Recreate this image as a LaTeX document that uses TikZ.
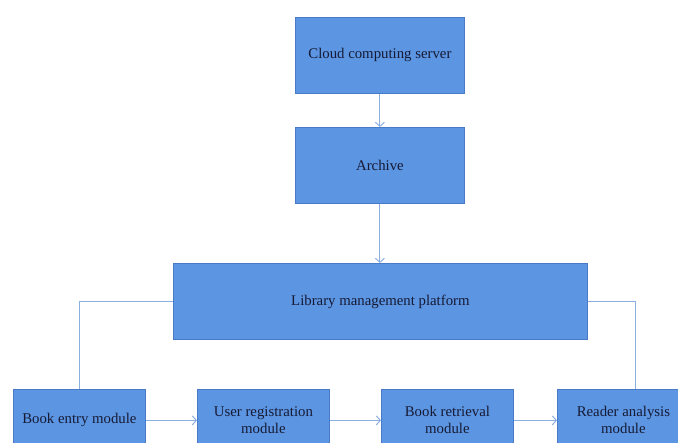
\documentclass[tikz,border=0pt]{standalone}
\usepackage{fontspec}
\setmainfont{Liberation Serif}
\usetikzlibrary{arrows.meta}
\definecolor{boxfill}{RGB}{92,149,226}
\definecolor{boxline}{RGB}{72,122,200}
\definecolor{arrowc}{RGB}{140,175,225}
\definecolor{txt}{RGB}{22,26,52}
\begin{document}
\begin{tikzpicture}[x=1pt,y=-1pt,
  box/.style={draw=boxline, fill=boxfill, line width=0.8pt, text=txt,
    font=\fontsize{14.8}{17}\selectfont, align=center, inner sep=0pt, anchor=north west},
  bigbox/.style={box, minimum width=169pt, minimum height=76pt},
  modbox/.style={box, minimum width=132pt, minimum height=62pt},
  link/.style={draw=arrowc, line width=1pt},
  conn/.style={link, -{Straight Barb[length=4pt,width=9pt]}}]
\useasboundingbox (0,0) rectangle (678,443);
\node[bigbox] (cloud) at (295,17) {Cloud computing server};
\node[bigbox] (archive) at (295,127) {Archive};
\node[box, minimum width=414pt, minimum height=76pt] (lib) at (173,263) {Library management platform};
\node[modbox] (entry) at (13,389) {Book entry module};
\node[modbox] (user) at (197,389) {User registration\\module};
\node[modbox] (retr) at (381,389) {Book retrieval\\module};
\node[modbox] (reader) at (557,389) {Reader analysis\\module};
\coordinate (rtop) at ([xshift=12pt]reader.north);
\draw[conn] (cloud) -- (archive);
\draw[conn] (archive.south) -- (archive.south |- lib.north);
\draw[link] (lib.west) -| (entry.north);
\draw[link] (lib.east) -| (rtop);
\draw[conn] (entry) -- (user);
\draw[conn] (user) -- (retr);
\draw[conn] (retr) -- (reader);
\end{tikzpicture}
\end{document}
